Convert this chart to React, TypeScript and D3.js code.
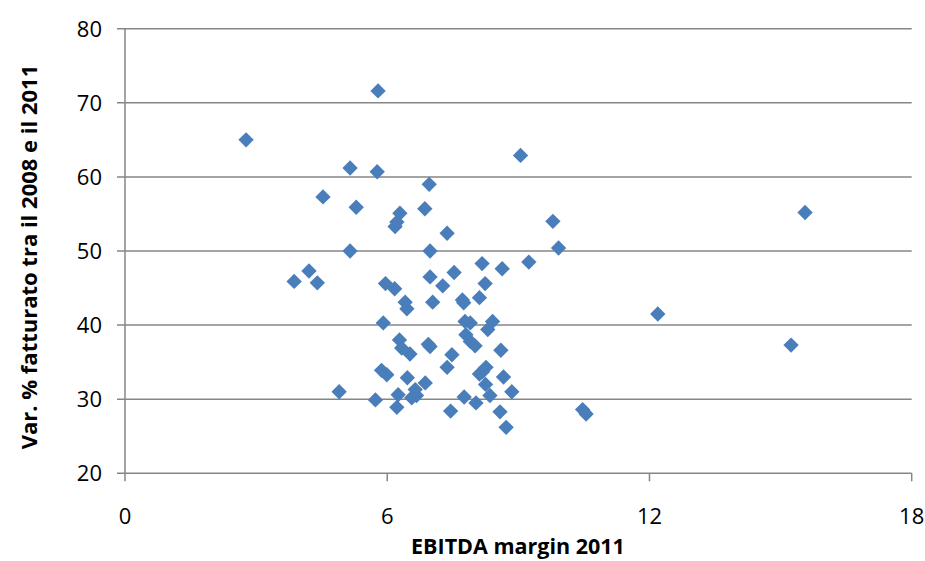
import React from "react";
import * as d3 from "d3";

const xValues = [
  2.77, 5.79, 5.15, 5.77, 4.53, 5.29, 6.29, 6.22, 6.18, 6.96, 6.86, 7.37, 5.15, 6.98, 9.05, 9.79, 9.92,
  6.98, 7.27, 5.96, 6.17, 6.41, 6.45, 7.04, 5.91, 8.17, 8.63, 9.24, 7.53, 8.24, 8.11, 7.72, 7.75, 7.78,
  7.9, 8.41, 8.3, 7.8, 6.28, 6.33, 6.52, 6.94, 6.98, 7.48, 7.37, 5.87, 5.99, 6.46, 6.87, 4.9, 6.25, 6.56,
  6.67, 6.64, 5.73, 6.22, 7.45, 7.9, 8.01, 8.6, 8.26, 8.11, 8.18, 8.25, 8.66, 8.85, 8.35, 7.76, 8.03,
  8.58, 8.72, 4.21, 3.87, 4.4, 10.47, 10.55, 12.19, 15.24, 15.56,
];
const yValues = [
  65.0, 71.6, 61.2, 60.7, 57.3, 55.9, 55.1, 53.9, 53.3, 59.0, 55.7, 52.4, 50.0, 50.0, 62.9, 54.0, 50.4,
  46.5, 45.3, 45.6, 44.9, 43.1, 42.2, 43.1, 40.3, 48.3, 47.6, 48.5, 47.1, 45.6, 43.7, 43.4, 43.0, 40.5,
  40.3, 40.5, 39.4, 38.7, 38.0, 36.9, 36.1, 37.4, 37.1, 36.0, 34.3, 33.9, 33.3, 32.9, 32.2, 31.0, 30.6, 30.2,
  30.5, 31.3, 29.9, 28.9, 28.4, 37.8, 37.2, 36.6, 34.3, 33.4, 33.7, 32.0, 33.0, 31.0, 30.5, 30.3, 29.5,
  28.3, 26.2, 47.3, 45.9, 45.7, 28.6, 28.0, 41.5, 37.3, 55.2,
];
const xTicks = [0, 6, 12, 18];
const yTicks = [20, 30, 40, 50, 60, 70, 80];
const xTitle = "EBITDA margin 2011";
const yTitle = "Var. % fatturato tra il 2008 e il 2011";

const W = 925;
const H = 561;
const L = 125;
const R = 911.7;
const T = 28.7;
const B = 473.3;

export default function App() {
  const x = d3.scaleLinear().domain([0, 18]).range([L, R]);
  const y = d3.scaleLinear().domain([20, 80]).range([B, T]);
  const diamond = d3.symbol().type(d3.symbolDiamond2).size(150)();
  const font = "'Open Sans', sans-serif";
  const grid = "#868686";
  return (
    <svg width={W} height={H} style={{ position: "absolute", left: 0, top: 0, background: "#fff" }}>
      {yTicks.map((t) => (
        <g key={"y" + t}>
          <line x1={L - 8} x2={R} y1={y(t)} y2={y(t)} stroke={grid} strokeWidth={1.5} />
          <text x={102} y={y(t)} dy="0.36em" textAnchor="end" fontFamily={font} fontSize={22} fill="#000">
            {t}
          </text>
        </g>
      ))}
      <line x1={L} x2={L} y1={T} y2={B} stroke={grid} strokeWidth={1.5} />
      {xTicks.map((t) => (
        <g key={"x" + t}>
          <line x1={x(t)} x2={x(t)} y1={B} y2={B + 8} stroke={grid} strokeWidth={1.5} />
          <text x={x(t)} y={516} dy="0.36em" textAnchor="middle" fontFamily={font} fontSize={22} fill="#000">
            {t}
          </text>
        </g>
      ))}
      {xValues.map((xv, i) => (
        <path key={i} d={diamond} transform={`translate(${x(xv)},${y(yValues[i])})`} fill="#4a7ebb" />
      ))}
      <text x={518} y={546} dy="0.36em" textAnchor="middle" fontFamily={font} fontSize={21.5} fontWeight="bold">
        {xTitle}
      </text>
      <text
        transform={`translate(29,257) rotate(-90)`}
        dy="0.36em"
        textAnchor="middle"
        fontFamily={font}
        fontSize={22}
        fontWeight="bold"
      >
        {yTitle}
      </text>
    </svg>
  );
}
